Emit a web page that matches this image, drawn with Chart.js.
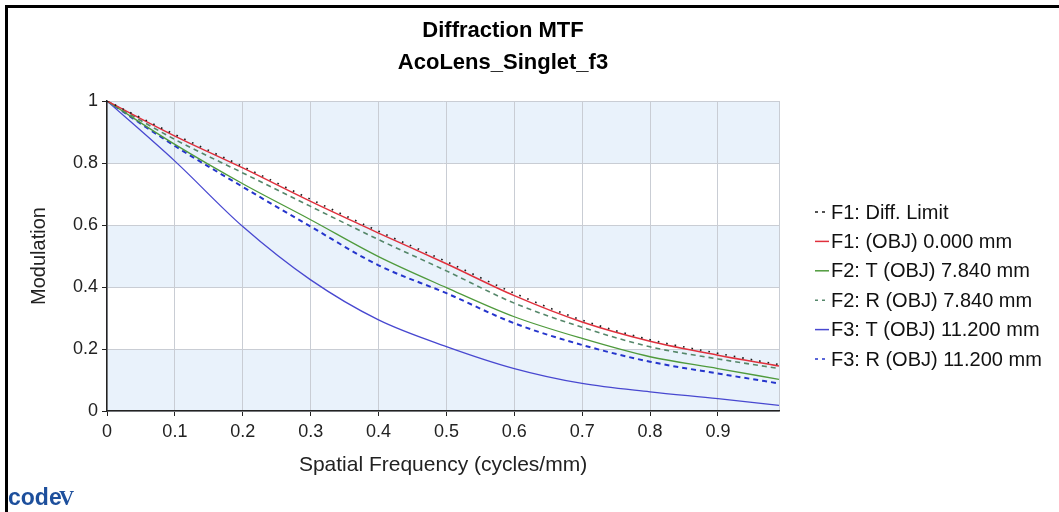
<!DOCTYPE html>
<html>
<head>
<meta charset="utf-8">
<script src="https://cdn.jsdelivr.net/npm/chart.js@4.4.0/dist/chart.umd.min.js"></script>
<style>
  html, body { margin: 0; padding: 0; background: #fff; }
  #wrap { position: relative; width: 1059px; height: 512px; }
</style>
</head>
<body>
<div id="wrap"><canvas id="mtf" width="1059" height="512"></canvas></div>
<script>
// data
const freq = [0, 0.1, 0.2, 0.3, 0.4, 0.5, 0.6, 0.7, 0.8, 0.9, 0.99];
const diffLimit = [1, 0.892, 0.789, 0.683, 0.580, 0.482, 0.380, 0.293, 0.230, 0.186, 0.150];
const f1Obj    = [1, 0.887, 0.784, 0.676, 0.574, 0.475, 0.372, 0.287, 0.225, 0.180, 0.145];
const f2T      = [1, 0.860, 0.733, 0.617, 0.498, 0.398, 0.304, 0.234, 0.175, 0.137, 0.102];
const f2R      = [1, 0.876, 0.768, 0.660, 0.553, 0.452, 0.348, 0.270, 0.207, 0.168, 0.137];
const f3T      = [1, 0.806, 0.595, 0.423, 0.294, 0.208, 0.137, 0.089, 0.062, 0.040, 0.018];
const f3R      = [1, 0.855, 0.723, 0.595, 0.470, 0.380, 0.283, 0.213, 0.159, 0.121, 0.089];
const seriesNames = [
  "F1: Diff. Limit",
  "F1: (OBJ) 0.000 mm",
  "F2: T (OBJ) 7.840 mm",
  "F2: R (OBJ) 7.840 mm",
  "F3: T (OBJ) 11.200 mm",
  "F3: R (OBJ) 11.200 mm"
];
const titleLines = ["Diffraction MTF", "AcoLens_Singlet_f3"];
const xTicks = [0, 0.1, 0.2, 0.3, 0.4, 0.5, 0.6, 0.7, 0.8, 0.9];
const yTicks = [0, 0.2, 0.4, 0.6, 0.8, 1];

const FONT = "'Liberation Sans', Arial, sans-serif";

function pts(vals) {
  return vals.map((v, i) => ({ x: freq[i], y: v }));
}

function line(label, vals, color, width, dash) {
  return {
    label: label,
    data: pts(vals),
    borderColor: color,
    backgroundColor: color,
    borderWidth: width,
    borderDash: dash,
    pointRadius: 0,
    fill: false,
    cubicInterpolationMode: "monotone"
  };
}

// bands, frame, title, legend and logo
const decor = {
  id: "decor",
  beforeDraw(chart) {
    const { ctx, chartArea: a, scales: { y } } = chart;
    ctx.save();
    ctx.fillStyle = "#e9f2fb";
    [[0, 0.2], [0.4, 0.6], [0.8, 1]].forEach(([lo, hi]) => {
      const top = y.getPixelForValue(hi), bot = y.getPixelForValue(lo);
      ctx.fillRect(a.left, top, a.right - a.left, bot - top);
    });
    ctx.restore();
  },
  afterDraw(chart) {
    const ctx = chart.ctx;
    ctx.save();
    // frame
    ctx.fillStyle = "#000";
    ctx.fillRect(5, 5, 1054, 3);
    ctx.fillRect(5, 5, 3, 507);

    // title
    ctx.fillStyle = "#000";
    ctx.font = "bold 22px " + FONT;
    ctx.textAlign = "center";
    ctx.textBaseline = "alphabetic";
    ctx.fillText(titleLines[0], 503, 37);
    ctx.fillText(titleLines[1], 503, 69);

    // legend
    ctx.font = "20px " + FONT;
    ctx.textAlign = "left";
    ctx.textBaseline = "middle";
    chart.data.datasets.forEach((ds, i) => {
      const yy = 212 + i * 29.4;
      ctx.strokeStyle = ds.borderColor;
      ctx.lineWidth = 1.5;
      ctx.setLineDash(ds.borderDash.length ? [3, 4] : []);
      ctx.beginPath();
      ctx.moveTo(815, yy);
      ctx.lineTo(829, yy);
      ctx.stroke();
      ctx.setLineDash([]);
      ctx.fillStyle = "#111";
      ctx.fillText(ds.label, 831, yy + 1);
    });

    // logo
    ctx.fillStyle = "#1d4f9c";
    ctx.font = "bold 23px " + FONT;
    ctx.textBaseline = "alphabetic";
    ctx.fillText("code", 8, 505);
    ctx.font = "bold 21px 'Liberation Serif', serif";
    ctx.fillText("V", 59, 505);
    ctx.restore();
  }
};

new Chart(document.getElementById("mtf"), {
  type: "line",
  data: {
    datasets: [
      line(seriesNames[0], diffLimit, "#1a1a1a", 1.6, [1.6, 7]),
      line(seriesNames[1], f1Obj, "#e0303c", 1.4, []),
      line(seriesNames[2], f2T, "#4f9a3c", 1.3, []),
      line(seriesNames[3], f2R, "#55876a", 1.6, [5, 4]),
      line(seriesNames[4], f3T, "#4848d0", 1.3, []),
      line(seriesNames[5], f3R, "#2535cc", 2, [5, 4])
    ]
  },
  plugins: [decor],
  options: {
    responsive: false,
    animation: false,
    devicePixelRatio: 1,
    layout: { padding: { top: 101, right: 280, bottom: 30, left: 25 } },
    plugins: {
      legend: { display: false },
      title: { display: false },
      tooltip: { enabled: false }
    },
    scales: {
      x: {
        type: "linear",
        min: 0,
        max: 0.99,
        afterFit(s) { s.height = 71; },
        afterBuildTicks(s) { s.ticks = xTicks.concat([0.99]).map(v => ({ value: v })); },
        border: { color: "#222", width: 1.5 },
        grid: {
          color: "#c9cdd4",
          tickLength: 5,
          tickColor: c => (c.tick && c.tick.value === 0.99 ? "rgba(0,0,0,0)" : "#222")
        },
        ticks: {
          color: "#222",
          padding: 5,
          font: { family: FONT, size: 18 },
          callback: v => (v === 0.99 ? "" : String(v))
        },
        title: {
          display: true,
          text: "Spatial Frequency (cycles/mm)",
          color: "#222",
          font: { family: FONT, size: 21 },
          padding: { top: 4, bottom: 4 }
        }
      },
      y: {
        min: 0,
        max: 1,
        afterFit(s) { s.width = 82; },
        afterBuildTicks(s) { s.ticks = yTicks.map(v => ({ value: v })); },
        border: { color: "#222", width: 1.5 },
        grid: { color: "#c9cdd4", tickLength: 5, tickColor: "#222" },
        ticks: {
          color: "#222",
          padding: 4,
          font: { family: FONT, size: 18 },
          callback: v => String(v)
        },
        title: {
          display: true,
          text: "Modulation",
          color: "#222",
          font: { family: FONT, size: 20 },
          padding: { top: 2, bottom: 2 }
        }
      }
    }
  }
});
</script>
</body>
</html>
